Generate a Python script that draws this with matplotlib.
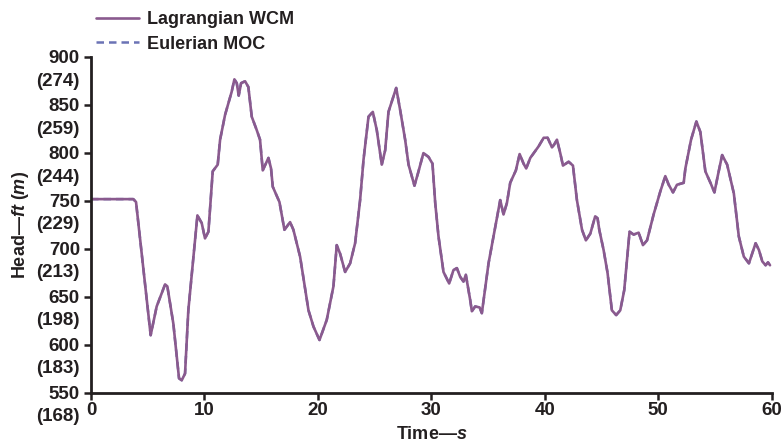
import matplotlib
matplotlib.use("Agg")
import matplotlib.pyplot as plt
import matplotlib.transforms as transforms

plt.rcParams['font.family'] = ['Liberation Sans', 'DejaVu Sans']
plt.rcParams['font.weight'] = 'bold'
plt.rcParams['axes.labelweight'] = 'bold'
plt.rcParams['mathtext.fontset'] = 'custom'
plt.rcParams['mathtext.bfit'] = 'Liberation Sans:italic:bold'
plt.rcParams['mathtext.bf'] = 'Liberation Sans:bold'
plt.rcParams['mathtext.it'] = 'Liberation Sans:italic:bold'

ink = "#231f20"

# pump head transient, time in s, head in ft
time = [0, 3.73, 3.97, 5.26, 5.79, 6.53, 6.73, 7.26, 7.76, 8.0, 8.29, 8.58, 9.38,
        9.76, 10.05, 10.35, 10.73, 11.17, 11.38, 11.82, 12.4, 12.64, 12.85, 13.02,
        13.23, 13.58, 13.87, 14.17, 14.61, 14.9, 15.14, 15.64, 15.87, 16.02, 16.61,
        17.05, 17.55, 17.84, 18.43, 19.17, 19.61, 20.14, 20.78, 21.37, 21.66, 21.96,
        22.4, 22.84, 23.28, 23.72, 24.02, 24.46, 24.84, 25.19, 25.63, 25.93, 26.22,
        26.66, 26.9, 27.25, 27.69, 27.99, 28.51, 28.87, 29.3, 29.75, 30.1, 30.34,
        30.63, 31.07, 31.57, 31.95, 32.25, 32.54, 32.83, 33.04, 33.42, 33.57, 33.86,
        34.25, 34.45, 35.04, 35.63, 36.07, 36.36, 36.66, 36.95, 37.45, 37.78, 38.13,
        38.36, 38.72, 39.45, 39.9, 40.25, 40.63, 40.83, 41.07, 41.36, 41.6, 42.1,
        42.48, 42.83, 43.28, 43.62, 44.01, 44.44, 44.65, 44.8, 45.18, 45.53, 45.91,
        46.29, 46.65, 47.0, 47.47, 47.83, 48.27, 48.65, 49.01, 49.59, 50.18, 50.62,
        50.92, 51.3, 51.65, 52.24, 52.39, 52.89, 53.36, 53.71, 54.15, 54.6, 54.95,
        55.24, 55.63, 56.07, 56.66, 57.1, 57.54, 57.99, 58.58, 58.87, 59.17, 59.46,
        59.67, 59.85]
head_wcm = [752, 752, 749, 610, 640, 663, 661, 622, 565, 563, 570, 636, 735,
            727, 711, 718, 781, 788, 814, 840, 864, 877, 873, 860,
            873, 875, 869, 838, 824, 814, 782, 795, 784, 765, 749,
            720, 728, 720, 692, 636, 619, 605, 626, 661, 704, 695,
            676, 685, 706, 751, 793, 838, 843, 824, 788, 803, 843,
            859, 868, 845, 814, 788, 766, 781, 800, 796, 789, 748,
            713, 676, 664, 678, 680, 671, 666, 673, 647, 635, 640,
            639, 633, 685, 723, 751, 736, 748, 769, 782, 799, 789,
            784, 795, 807, 816, 816, 806, 809, 814, 800, 787, 791,
            787, 751, 720, 709, 716, 734, 732, 720, 699, 675, 636,
            631, 636, 657, 718, 715, 717, 704, 709, 736, 760, 776,
            767, 759, 767, 769, 784, 814, 833, 822, 781, 769, 759,
            776, 798, 788, 758, 713, 692, 685, 706, 699, 687, 683,
            686, 683]
head_moc = head_wcm  # the two solutions overlay

head_ft = [550, 600, 650, 700, 750, 800, 850, 900]
head_m = [168, 183, 198, 213, 229, 244, 259, 274]
time_ticks = [0, 10, 20, 30, 40, 50, 60]

fig = plt.figure(figsize=(7.83, 4.44), dpi=100)
ax = fig.add_axes([0.1162, 0.1155, 0.8694, 0.7555])

ax.plot(time, head_moc, color="#6b73b5", lw=1.8, ls=(0, (3, 2)), label="Eulerian MOC")
ax.plot(time, head_wcm, color="#8a5a8e", lw=1.9, label="Lagrangian WCM",
        solid_joinstyle="round", solid_capstyle="round")

ax.set_xlim(0, 60)
ax.set_ylim(550, 900)
for s in ["top", "right"]:
    ax.spines[s].set_visible(False)
for s in ["left", "bottom"]:
    ax.spines[s].set_linewidth(2.0)
    ax.spines[s].set_color(ink)

ax.set_xticks(time_ticks)
ax.set_xticklabels([str(t) for t in time_ticks])
ax.set_yticks(head_ft)
ax.set_yticklabels([])
ax.tick_params(axis="both", direction="out", length=5, width=1.8, color=ink,
               labelsize=13.5, labelcolor=ink, pad=2)

# two-line head labels: ft on top, m below
trans = transforms.blended_transform_factory(ax.transAxes, ax.transData) + \
    transforms.ScaledTranslation(-11 / 100, 7 / 100, fig.dpi_scale_trans)
for ft, m in zip(head_ft, head_m):
    ax.text(0, ft, f"{ft}\n({m})", transform=trans, ha="right", va="top",
            fontsize=13.5, color=ink, linespacing=1.42)

ax.set_ylabel(r"Head—$\mathbfit{ft}$ $\mathbf{(}\mathbfit{m}\mathbf{)}$", fontsize=13,
              color=ink, labelpad=0)
ax.yaxis.set_label_coords(-0.088, 0.5)
ax.set_xlabel(r"Time—$\mathbfit{s}$", fontsize=13, color=ink)
ax.xaxis.set_label_coords(0.5, -0.1)

handles, labels = ax.get_legend_handles_labels()
leg = ax.legend(handles[::-1], labels[::-1], loc="upper left",
                bbox_to_anchor=(96 / 783, 1 - 11 / 444), bbox_transform=fig.transFigure,
                frameon=False, fontsize=13, handlelength=2.4, handletextpad=0.45,
                labelspacing=0.42, borderaxespad=0, borderpad=0)
for t in leg.get_texts():
    t.set_color(ink)

fig.savefig("out.png", dpi=100)
